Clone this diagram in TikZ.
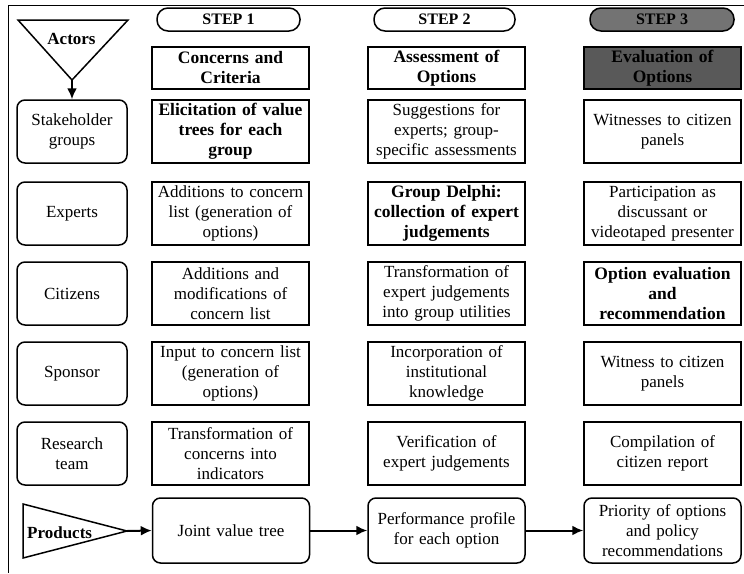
\documentclass[tikz,border=0pt]{standalone}
\usepackage{fontspec}
\setmainfont{Liberation Serif}
\usetikzlibrary{arrows.meta,patterns}
\begin{document}
\begin{tikzpicture}[x=1pt,y=-1pt,
  box/.style={draw, line width=1.5pt, inner sep=1pt, minimum width=157pt, minimum height=63pt, align=center, font=\fontsize{17}{20}\selectfont, text width=155pt},
  abox/.style={box, rounded corners=8pt, minimum width=110pt, text width=108pt},
  pbox/.style={box, rounded corners=8pt, minimum height=65pt},
  bbox/.style={box, font=\bfseries\fontsize{17.5}{20}\selectfont},
  hbox/.style={bbox, minimum height=42pt},
  stepbox/.style={draw, line width=1.5pt, rounded corners=11pt, minimum height=23pt, inner sep=0pt, font=\bfseries\fontsize{16}{18}\selectfont},
  arr/.style={-{Latex[length=11pt,width=10pt]}, line width=2pt},
  frame/.style={line width=1pt},
  tri/.style={draw, line width=1.5pt},
  lbl/.style={font=\bfseries\fontsize{17}{20}\selectfont, inner sep=0pt},
]
\useasboundingbox (0,0) rectangle (744,573);
% frame
\draw[frame] (744,5) -- (8,5) -- (8,573);

% step ovals
\node[stepbox, minimum width=143pt] (st1) at (228.5,19.5) {STEP 1};
\node[stepbox, minimum width=141pt] (st2) at (444.5,19.5) {STEP 2};
\node[stepbox, minimum width=144pt, fill=black!55] (st3) at (662,19.5) {STEP 3};

% headers
\node[hbox] (h1) at (230.5,68) {Concerns and\\Criteria};
\node[hbox] (h2) at (446.5,68) {Assessment of\\Options};
\node[hbox, fill=black!65] (h3) at (662.5,68) {Evaluation of\\Options};

% actors triangle
\coordinate (actapex) at (72,80);
\draw[tri] (18,20) -- (128,20) -- (actapex) -- cycle;
\node[lbl] (actors) at (71.5,39) {Actors};

% row 1
\node[abox] (a1) at (72,131.5) {Stakeholder\\groups};
\node[bbox] (b1) at (230.5,131.5) {Elicitation of value\\trees for each\\group};
\node[box] (c1) at (446.5,131.5) {Suggestions for\\experts; group-\\specific assessments};
\node[box] (d1) at (662.5,131.5) {Witnesses to citizen\\panels};
% row 2
\node[abox] (a2) at (72,213.5) {Experts};
\node[box] (b2) at (230.5,213.5) {Additions to concern\\list (generation of\\options)};
\node[bbox] (c2) at (446.5,213.5) {Group Delphi:\\collection of expert\\judgements};
\node[box] (d2) at (662.5,213.5) {Participation as\\discussant or\\videotaped presenter};
% row 3
\node[abox] (a3) at (72,293.5) {Citizens};
\node[box] (b3) at (230.5,293.5) {Additions and\\modifications of\\concern list};
\node[box] (c3) at (446.5,293.5) {Transformation of\\expert judgements\\into group utilities};
\node[bbox] (d3) at (662.5,293.5) {Option evaluation\\and\\recommendation};
% row 4
\node[abox] (a4) at (72,373.5) {Sponsor};
\node[box] (b4) at (230.5,373.5) {Input to concern list\\(generation of\\options)};
\node[box] (c4) at (446.5,373.5) {Incorporation of\\institutional\\knowledge};
\node[box] (d4) at (662.5,373.5) {Witness to citizen\\panels};
% row 5
\node[abox] (a5) at (72,453.5) {Research\\team};
\node[box] (b5) at (230.5,453.5) {Transformation of\\concerns into\\indicators};
\node[box] (c5) at (446.5,453.5) {Verification of\\expert judgements};
\node[box] (d5) at (662.5,453.5) {Compilation of\\citizen report};

% products
\coordinate (prodapex) at (127,531);
\draw[tri] (23,504) -- (prodapex) -- (23,558) -- cycle;
\node[lbl, anchor=west] (products) at (27,533) {Products};
\node[pbox] (p1) at (231,530.5) {Joint value tree};
\node[pbox] (p2) at (446.5,530.5) {Performance profile\\for each option};
\node[pbox] (p3) at (662.5,530.5) {Priority of options\\and policy\\recommendations};

% arrows
\draw[arr] (actapex) -- (a1.north);
\draw[arr] (prodapex) -- (p1.west);
\draw[arr] (p1.east) -- (p2.west);
\draw[arr] (p2.east) -- (p3.west);
\end{tikzpicture}
\end{document}
